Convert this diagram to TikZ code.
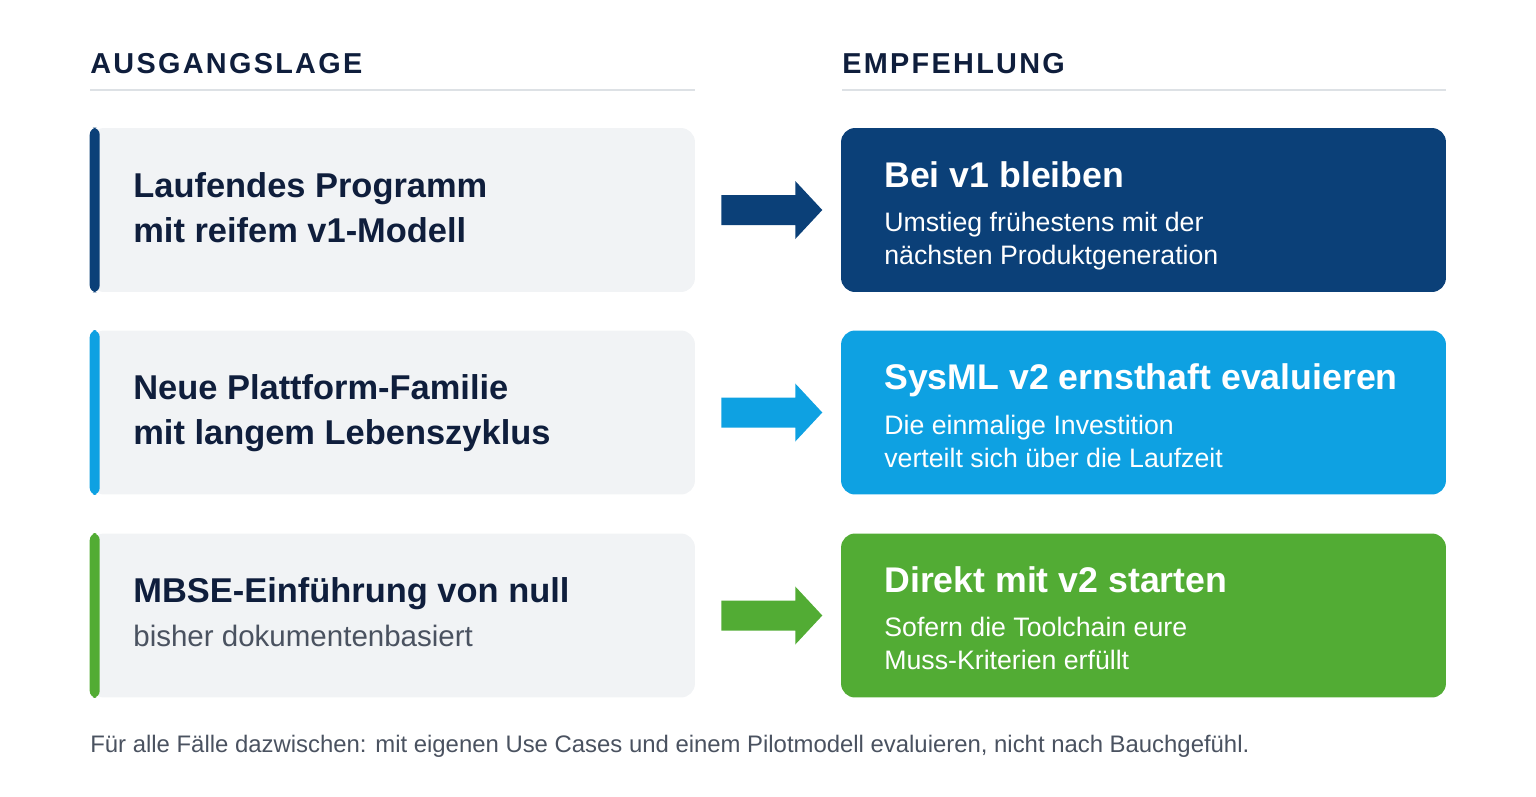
\documentclass[tikz,border=0pt]{standalone}
\usepackage{fontspec}
\setmainfont{Liberation Sans}
\newfontfamily\headfont[LetterSpace=8]{Liberation Sans}
\usetikzlibrary{positioning, calc}
\definecolor{navy-text}{HTML}{0F1E3C}
\definecolor{gray-text}{HTML}{4A5260}
\definecolor{panel-gray}{HTML}{F1F3F5}
\definecolor{rule-gray}{HTML}{DDE1E5}
\definecolor{rec-dark}{HTML}{0B4078}
\definecolor{rec-light}{HTML}{0EA1E2}
\definecolor{rec-green}{HTML}{52AC34}
\tikzset{
  lbox/.style={fill=panel-gray, rounded corners=8pt, minimum width=12.1cm, minimum height=3.28cm, inner sep=0pt},
  rbox/.style={fill=#1, rounded corners=8pt, minimum width=12.1cm, minimum height=3.28cm, inner sep=0pt},
  head/.style={anchor=base west, inner sep=0pt, text=navy-text, font=\headfont\fontsize{16.4}{18}\selectfont\bfseries},
  ltitle/.style={anchor=base west, inner sep=0pt, text=navy-text, font=\fontsize{19.6}{25.5}\selectfont\bfseries, align=left},
  rtitle/.style={anchor=base west, inner sep=0pt, text=white, font=\fontsize{20.3}{22}\selectfont\bfseries},
  rsub/.style={anchor=base west, inner sep=0pt, text=white, font=\fontsize{15.2}{18.7}\selectfont, align=left},
}
\begin{document}
\begin{tikzpicture}[x=0.02cm, y=-0.02cm]
\useasboundingbox (0,0) rectangle (1536,796);

% headers
\node[head] (hl) at (90,73) {AUSGANGSLAGE};
\node[head] (hr) at (842,73) {EMPFEHLUNG};
\draw[rule-gray, line width=1.2pt] (90,90) -- (695,90);
\draw[rule-gray, line width=1.2pt] (842,90) -- (1446,90);

% rows
\foreach \y/\c/\n in {210/rec-dark/1, 412.5/rec-light/2, 615.5/rec-green/3} {
  \node[lbox] (l\n) at (392.5,\y) {};
  \fill[\c, rounded corners=4pt] (l\n.north west) rectangle ($(l\n.south west)+(10,0)$);
  \node[rbox=\c] (r\n) at (1143.5,\y) {};
  \fill[\c] ($(l\n.east)+(26,-15)$) -- ($(l\n.east)+(100,-15)$) -- ($(l\n.east)+(100,-29)$)
    -- ($(l\n.east)+(127,0)$) -- ($(l\n.east)+(100,29)$) -- ($(l\n.east)+(100,15)$)
    -- ($(l\n.east)+(26,15)$) -- cycle;
}

% left texts (base = last line)
\node[ltitle] (t1) at (133,242) {Laufendes Programm\\mit reifem v1-Modell};
\node[ltitle] (t2) at (133,444) {Neue Plattform-Familie\\mit langem Lebenszyklus};
\node[ltitle] (t3) at (133,602) {MBSE-Einführung von null};
\node[anchor=base west, inner sep=0pt, text=gray-text, font=\fontsize{16.8}{19}\selectfont] (s3) at (133,646) {bisher dokumentenbasiert};

% right texts
\node[rtitle] (e1) at (884,187) {Bei v1 bleiben};
\node[rsub] (f1) at (884,264) {Umstieg frühestens mit der\\nächsten Produktgeneration};
\node[rtitle] (e2) at (884,389) {SysML v2 ernsthaft evaluieren};
\node[rsub] (f2) at (884,467) {Die einmalige Investition\\verteilt sich über die Laufzeit};
\node[rtitle] (e3) at (884,592) {Direkt mit v2 starten};
\node[rsub] (f3) at (884,669) {Sofern die Toolchain eure\\Muss-Kriterien erfüllt};

% footer
\node[anchor=base west, inner sep=0pt, text=gray-text, font=\fontsize{13.6}{15}\selectfont] (foot) at (90,752) {Für alle Fälle dazwischen: mit eigenen Use Cases und einem Pilotmodell evaluieren, nicht nach Bauchgefühl.};
\end{tikzpicture}
\end{document}
